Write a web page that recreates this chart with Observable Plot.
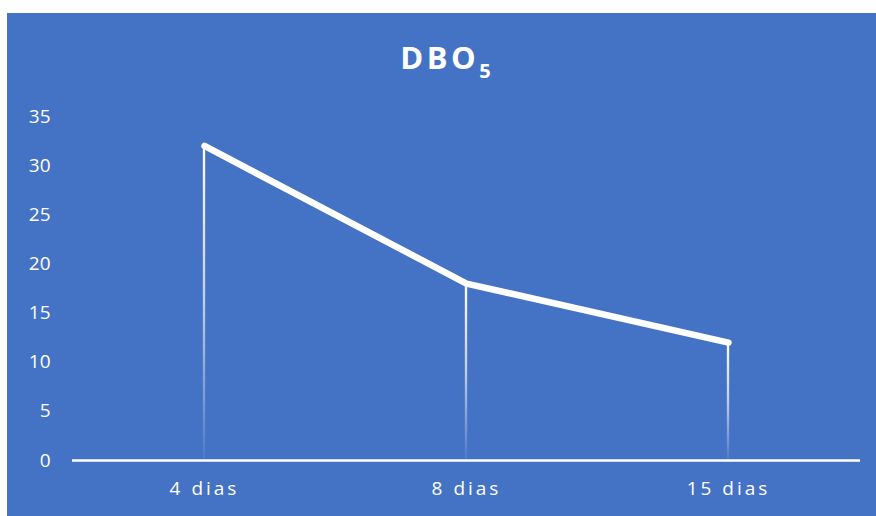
<!DOCTYPE html>
<html><head><meta charset="utf-8">
<script src="https://cdn.jsdelivr.net/npm/d3@7"></script>
<script src="https://cdn.jsdelivr.net/npm/@observablehq/plot@0.6"></script>
<style>
html,body{margin:0;padding:0;background:#fff;}
#card{position:absolute;left:7px;top:13px;width:869px;height:503px;background:#4472C4;font-family:"Open Sans",sans-serif;}
#title{height:85px;text-align:center;color:#fff;font-weight:bold;font-size:31px;letter-spacing:3.5px;line-height:1;padding-top:29px;box-sizing:border-box;padding-left:8px;}
#title sub{font-size:20px;letter-spacing:0;vertical-align:-9px;line-height:0;}
</style></head><body>
<div id="card"><div id="title">DBO<sub>5</sub></div><div id="chart"></div></div>
<script>
const categories = ["4 dias", "8 dias", "15 dias"];
const values = [32, 18, 12];
const yTicks = [0, 5, 10, 15, 20, 25, 30, 35];

const data = categories.map((c, i) => ({cat: c, v: values[i]}));
const W = 869, H = 418, mL = 65, mR = 16;
const inset = ((W - mL - mR) / categories.length - 3) / 2;

const plot = Plot.plot({
  width: W, height: H,
  marginLeft: mL, marginRight: mR, marginTop: 18, marginBottom: 56,
  style: {background: "transparent", color: "#fff", fontFamily: "Open Sans, sans-serif", fontSize: "19px"},
  x: {type: "band", domain: categories, padding: 0, label: null},
  y: {domain: [0, 35], ticks: yTicks, label: null},
  marks: [
    () => {
      const ns = "http://www.w3.org/2000/svg";
      const defs = document.createElementNS(ns, "defs");
      defs.innerHTML = `<linearGradient id="fade" x1="0" y1="0" x2="0" y2="1">
        <stop offset="0" stop-color="#fff" stop-opacity="1"/>
        <stop offset="0.5" stop-color="#fff" stop-opacity="0.65"/>
        <stop offset="1" stop-color="#fff" stop-opacity="0.05"/></linearGradient>`;
      return defs;
    },
    Plot.barY(data, {x: "cat", y: "v", fill: "url(#fade)", insetLeft: inset, insetRight: inset}),
    Plot.ruleY([0], {stroke: "#fff", strokeWidth: 2.5}),
    Plot.line(data, {x: "cat", y: "v", stroke: "#fff", strokeWidth: 6.5, strokeLinecap: "round", strokeLinejoin: "round"}),
    Plot.axisY({ticks: yTicks, tickSize: 0, tickPadding: 22, fontSize: 19, fill: "#fff"}),
    Plot.axisX({tickSize: 0, tickPadding: 21, fontSize: 19, fill: "#fff"})
  ]
});
plot.querySelectorAll('[aria-label="x-axis tick label"] text').forEach(t => t.setAttribute("letter-spacing", "3px"));
document.getElementById("chart").appendChild(plot);
</script>
</body></html>
